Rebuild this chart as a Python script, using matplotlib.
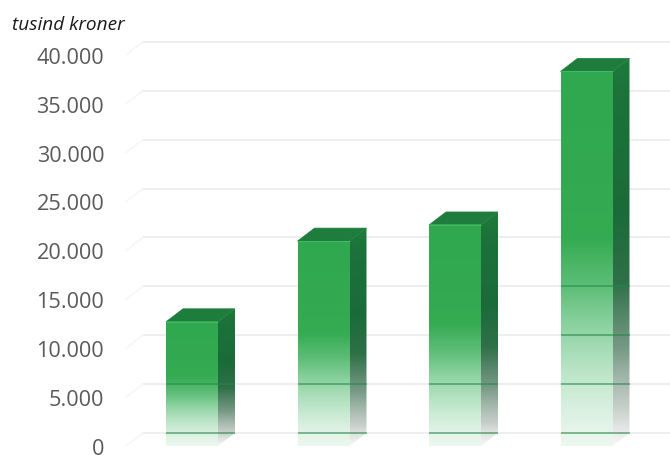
#!/usr/bin/env python
from matplotlib import use as mplUse
mplUse('Agg')
from matplotlib import pyplot as plt
from matplotlib.colors import to_rgb
from matplotlib.patches import Polygon
import numpy as np

bar_values = [12700, 20950, 22600, 38300]
tick_values = [0, 5000, 10000, 15000, 20000, 25000, 30000, 35000, 40000]
tick_labels = ["0", "5.000", "10.000", "15.000", "20.000", "25.000", "30.000", "35.000", "40.000"]

W, H = 670, 456
pitch = 131.5       # px between bars
first_x = 192.      # px, centre of first front face
px_per_val = 48.9 / 5000
base_y = 447.
ax_left, ax_top = 110., 20.
bar_w = 52. / pitch
dx = 17. / pitch
dz = 13. / px_per_val


def faceImage(ax, colors, alphas, extent, clip=None, z=3):
    # colors and alphas are (position from bottom, value) stops
    pos = np.linspace(0, 1, 256)
    stops = [c[0] for c in colors]
    rgb = np.array([to_rgb(c[1]) for c in colors])
    img = np.zeros((256, 1, 4))
    for k in range(3):
        img[:, 0, k] = np.interp(pos, stops, rgb[:, k])
    img[:, 0, 3] = np.interp(pos, [a[0] for a in alphas], [a[1] for a in alphas])
    pic = ax.imshow(img, origin='lower', aspect='auto', extent=extent,
                    interpolation='bilinear', zorder=z)
    if clip is not None:
        pic.set_clip_path(clip)
    return pic


def drawBar(ax, i, v):
    x0, x1 = i - bar_w / 2, i + bar_w / 2

    # side face, bottom edge runs up to the back
    side = Polygon([(x1, 0), (x1 + dx, dz), (x1 + dx, v + dz), (x1, v)],
                   closed=True, transform=ax.transData, fc='none', ec='none')
    ax.add_patch(side)
    faceImage(ax,
              [(0, '#a8aba9'), (0.2, '#6d8f7b'), (0.42, '#2f7048'), (0.6, '#1b6b3a'), (0.9, '#1c7239'), (1, '#1e7b3c')],
              [(0, 0.1), (0.1, 0.5), (0.25, 0.85), (0.42, 1), (1, 1)],
              (x1, x1 + dx, 0, v + dz), clip=side, z=3)

    # top face
    top = Polygon([(x0, v), (x0 + dx, v + dz), (x1 + dx, v + dz), (x1, v)],
                  closed=True, fc='#1e7d3d', ec='#1e7d3d', lw=0.5, zorder=4)
    ax.add_patch(top)

    # front face
    faceImage(ax,
              [(0, '#9ad8ab'), (0.3, '#5cc07a'), (0.55, '#35ab52'), (1, '#2fa84f')],
              [(0, 0.18), (0.1, 0.32), (0.28, 0.62), (0.42, 0.88), (0.55, 1), (1, 1)],
              (x0, x1, 0, v), z=5)
    ax.plot([x0, x1], [v, v], color='#45b864', lw=0.8, zorder=6, solid_capstyle='butt')

    # gridlines show through where the bar has faded out
    for t in tick_values[:-1]:
        if t + dz < v * 0.5:
            ax.plot([x0, x1 + dx], [t + dz, t + dz], color='#1f8a45', lw=1.2,
                    alpha=0.6, zorder=7, solid_capstyle='butt')


def main():
    fig = plt.figure(figsize=(W / 100., H / 100.), dpi=100)
    ax = fig.add_axes([ax_left / W, (H - base_y) / H, 1 - ax_left / W, (base_y - ax_top) / H])
    ax.set_facecolor('none')

    # back wall and left wall lines
    back_x = (143. - first_x) / pitch
    side_x = (126. - first_x) / pitch
    xmax = (W - first_x) / pitch
    for t in tick_values:
        ax.plot([back_x, xmax], [t + dz, t + dz], color='#eeeeee', lw=1.4, zorder=1)
        ax.plot([side_x, back_x], [t, t + dz], color='#f5f5f5', lw=1.0, zorder=1)

    for i, v in enumerate(bar_values):
        drawBar(ax, i, v)

    ax.set_xlim((ax_left - first_x) / pitch, xmax)
    ax.set_ylim(0, (base_y - ax_top) / px_per_val)
    ax.set_xticks([])
    ax.set_yticks(tick_values)
    ax.set_yticklabels(tick_labels, family='Open Sans', fontsize=15.6, color='#5a5a5a')
    ax.tick_params(axis='y', length=0, pad=4.2)
    for s in ax.spines.values():
        s.set_visible(False)

    fig.text(12. / W, 1 - 30. / H, "tusind kroner", family='Open Sans', style='italic',
             fontsize=13.7, color='#1a1a1a', ha='left', va='baseline')

    fig.savefig('out.png', dpi=100)
    plt.close(fig)


if __name__ == "__main__":
    main()
